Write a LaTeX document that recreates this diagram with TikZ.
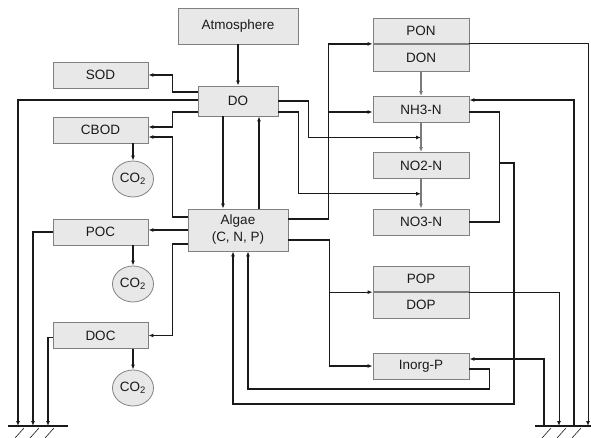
\documentclass[tikz,border=0pt]{standalone}
\usepackage{fontspec}
\setmainfont{Liberation Sans}
\usepackage{tikz}
\usetikzlibrary{arrows.meta,calc,shapes.geometric,positioning}
\definecolor{cfill}{HTML}{E8E8E8}
\definecolor{cedge}{HTML}{808080}
\definecolor{cink}{HTML}{1A1A1A}
\definecolor{cnit}{HTML}{7A7A7A}

\begin{document}
\begin{tikzpicture}[
    x=1pt, y=-1pt,
    >={Latex[length=5pt,width=4pt]},
    flow/.style={->, line width=1.3pt, draw=cink},
    wire/.style={line width=1.3pt, draw=cink},
    thin flow/.style={flow, line width=1pt},
    nflow/.style={->, line width=1.2pt, draw=cnit},
    box/.style={draw=cedge, line width=0.8pt, fill=cfill, align=center, text=cink,
                font=\fontsize{13.5}{17}\selectfont, inner sep=0pt},
    lbox/.style={box, minimum width=95pt, minimum height=26pt},
    rbox/.style={box, minimum width=96pt, minimum height=26pt},
    gas/.style={box, ellipse, minimum width=41pt, minimum height=36pt},
    gnd/.style={line width=2pt, draw=cink},
    hatch/.style={line width=0.6pt, draw=cink},
  ]
  % fixed canvas, same size as the reference
  \path[use as bounding box] (0,0) rectangle (591,438);
  % == boxes of the carbon / oxygen side
  \node[box, minimum width=120pt, minimum height=36pt] (atm) at (238,26) {Atmosphere};
  \node[box, minimum width=80pt, minimum height=30pt] (do) at (238,101) {DO};
  \node[box, minimum width=100pt, minimum height=42pt] (algae) at (238,230) {Algae\\(C, N, P)};
  \node[lbox] (sod) at (100.5,75) {SOD};
  \node[lbox] (cbod) at (100.5,130) {CBOD};
  \node[lbox] (poc) at (100.5,232) {POC};
  \node[lbox] (doc) at (100.5,335.5) {DOC};
  \node[gas] (co2a) at (133,179) {CO\textsubscript{2}};
  \node[gas] (co2b) at (133,284) {CO\textsubscript{2}};
  \node[gas] (co2c) at (133,388) {CO\textsubscript{2}};
  % == boxes of the nitrogen / phosphorus side
  \node[rbox, minimum height=25pt] (pon) at (421,31) {PON};
  \node[rbox, minimum height=27pt, below=0pt of pon] (don) {DON};
  \node[rbox] (nh3) at (421,109.5) {NH3-N};
  \node[rbox] (no2) at (421,165.5) {NO2-N};
  \node[rbox] (no3) at (421,222) {NO3-N};
  \node[rbox, minimum height=25.5pt] (pop) at (421,279) {POP};
  \node[rbox, minimum height=25.5pt, below=0pt of pop] (dop) {DOP};
  \node[rbox] (inorgp) at (421,366) {Inorg-P};
  % == sediment
  \coordinate (gA) at (18,426);
  \coordinate (gB) at (33,426);
  \coordinate (gC) at (48,426);
  \coordinate (gD) at (544,426);
  \coordinate (gE) at (559,426);
  \coordinate (gF) at (574,426);
  \coordinate (gG) at (588,426);
  \draw[gnd] (8,426) -- (68,426);
  \draw[gnd] (535,426) -- (591,426);
  \foreach \hx in {15,30,45,542,557,572}
    \draw[hatch] (\hx,438) -- ++(9,-10);
  % == oxygen
  \draw[flow] (atm) -- (do);
  \draw[flow] ($(do.west)+(0,-9)$) -- ++(-25,0) |- (sod.east);
  \draw[flow] ($(do.west)+(0,-1)$) -| (gA);
  \draw[flow] ($(do.west)+(0,11)$) -- ++(-25,0) |- ($(cbod.east)+(0,-3)$);
  \draw[flow] ($(do.south)+(-15,0)$) -- ($(algae.north)+(-15,0)$);
  \draw[flow] ($(algae.north)+(21,0)$) -- ($(do.south)+(21,0)$);
  % nitrification uses oxygen
  \coordinate (nit1) at ($(nh3.south)!0.5!(no2.north)$);
  \coordinate (nit2) at ($(no2.south)!0.5!(no3.north)$);
  \draw[flow] (do.east) -- ++(30,0) |- (nit1);
  \draw[flow] ($(do.east)+(0,11)$) -- ++(20,0) |- (nit2);
  % == carbon
  \draw[flow] ($(algae.west)+(0,-13)$) -- ++(-15,0) |- ($(cbod.east)+(0,7)$);
  \draw[flow] (algae.west) -- (algae.west -| poc.east);
  \draw[flow] ($(algae.west)+(0,14)$) -- ++(-15,0) |- (doc.east);
  \draw[flow] (co2a.north |- cbod.south) -- (co2a);
  \draw[flow] (co2b.north |- poc.south) -- (co2b);
  \draw[flow] (co2c.north |- doc.south) -- (co2c);
  \draw[flow] (poc.west) -| (gB);
  \draw[flow] ($(doc.west)+(0,2)$) -| (gC);
  % == nitrogen
  \draw[nflow] (don) -- (nh3);
  \draw[nflow] (nh3) -- (no2);
  \draw[nflow] (no2) -- (no3);
  \draw[flow] ($(algae.east)+(0,-11)$) -- ++(40,0) coordinate (jn) |- (pon.south west);
  \draw[flow] (jn |- nh3.west) ++(0,2.5) -- ($(nh3.west)+(0,2.5)$);
  \draw[thin flow] (pon.south east) -| (gG);
  \draw[flow] (gF) |- ($(nh3.east)+(0,-9.5)$);
  \draw[wire] ($(nh3.east)+(0,2.5)$) -- ++(30,0) coordinate (jr) |- (no3.east);
  \coordinate (lowA) at (514,404);
  \draw[flow] ($(jr |- no2.east)+(0,-2.5)$) -| (lowA) -| ($(algae.south)+(-5,0)$);
  % == phosphorus
  \draw[flow] ($(algae.east)+(0,10)$) -- ++(41,0) coordinate (jp) |- (inorgp.west);
  \draw[flow] (jp |- pop.south west) -- (pop.south west);
  \draw[thin flow] (pop.south east) -| (gE);
  \draw[flow] (gD) |- ($(inorgp.east)+(0,-7)$);
  \draw[flow] ($(inorgp.east)+(0,3)$) -- ++(20,0) -- ++(0,20) -| ($(algae.south)+(10,0)$);
\end{tikzpicture}
\end{document}
